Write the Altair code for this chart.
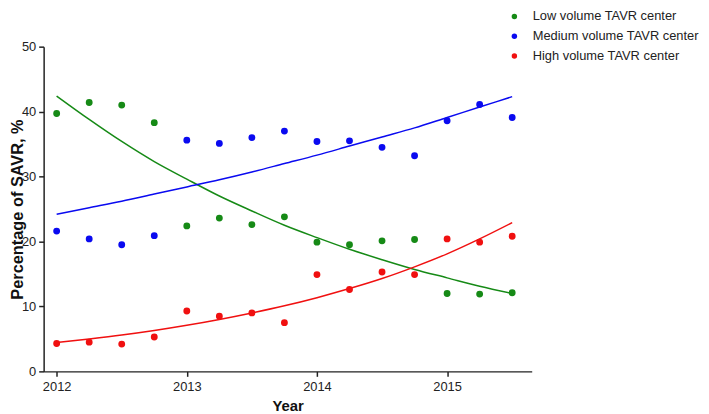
import altair as alt
import pandas as pd

years = [2012.0, 2012.25, 2012.5, 2012.75, 2013.0, 2013.25, 2013.5, 2013.75,
         2014.0, 2014.25, 2014.5, 2014.75, 2015.0, 2015.25, 2015.5]
low_pts = [39.7, 41.4, 41.0, 38.3, 22.4, 23.6, 22.6, 23.8, 19.9, 19.5, 20.1, 20.3, 12.0, 11.9, 12.1]
med_pts = [21.6, 20.4, 19.5, 20.9, 35.6, 35.1, 36.0, 37.0, 35.4, 35.5, 34.5, 33.2, 38.6, 41.1, 39.1]
high_pts = [4.3, 4.5, 4.2, 5.3, 9.3, 8.5, 9.0, 7.5, 14.9, 12.6, 15.3, 14.9, 20.4, 19.9, 20.8]
low_fit = [42.4, 38.8, 35.4, 32.3, 29.6, 27.0, 24.7, 22.5, 20.6, 18.8, 17.2, 15.7, 14.4, 13.1, 12.0]
med_fit = [24.2, 25.2, 26.2, 27.3, 28.4, 29.5, 30.7, 32.0, 33.3, 34.7, 36.1, 37.5, 39.1, 40.7, 42.3]
high_fit = [4.45, 5.0, 5.6, 6.3, 7.1, 8.0, 9.0, 10.1, 11.35, 12.75, 14.3, 16.1, 18.1, 20.4, 22.9]

series = ["Low volume TAVR center", "Medium volume TAVR center", "High volume TAVR center"]
fit_names = ["Low fit", "Medium fit", "High fit"]
colors = ["#168a16", "#0a0af0", "#f01010"]

rows = []
for name, fname, pts, fit in zip(series, fit_names, [low_pts, med_pts, high_pts],
                                 [low_fit, med_fit, high_fit]):
    for yr, p, f in zip(years, pts, fit):
        rows.append({"year": yr, "series": name, "curve": fname, "value": p, "fit": f})
df = pd.DataFrame(rows)

xscale = alt.Scale(domain=[2011.9, 2015.65], nice=False, zero=False)
yscale = alt.Scale(domain=[0, 50], nice=False)

x_enc = alt.X("year:Q", scale=xscale,
              axis=alt.Axis(title="Year", values=[2012, 2013, 2014, 2015], format="d",
                            grid=False, tickSize=5, labelPadding=4, titlePadding=6,
                            titleFontSize=15))
y_enc = alt.Y("value:Q", scale=yscale,
              axis=alt.Axis(title="Percentage of SAVR, %", values=list(range(0, 51, 5)),
                            labelExpr="datum.value % 10 == 0 ? datum.label : ''",
                            grid=False, tickSize=5, labelPadding=3, titleFontSize=16.5,
                            titleAngle=270, titleBaseline="top", titleAlign="center",
                            titleX=-34, titleY=164))

lines = alt.Chart(df).mark_line(strokeWidth=1.5, interpolate="monotone").encode(
    x=alt.X("year:Q", scale=xscale),
    y=alt.Y("fit:Q", scale=yscale),
    stroke=alt.Stroke("curve:N", scale=alt.Scale(domain=fit_names, range=colors), legend=None),
    detail="curve:N",
)

points = alt.Chart(df).mark_circle(size=48, opacity=1).encode(
    x=x_enc,
    y=y_enc,
    color=alt.Color("series:N", scale=alt.Scale(domain=series, range=colors),
                    legend=alt.Legend(title=None, orient="none", legendX=469, legendY=-37,
                                      symbolType="circle", symbolSize=30, symbolOpacity=1,
                                      labelFontSize=13, labelOffset=12, rowPadding=6,
                                      padding=0, labelLimit=300)),
)

chart = alt.layer(lines, points).properties(
    width=493, height=328,
    autosize=alt.AutoSizeParams(type="none"),
    padding={"left": 36, "top": 37, "right": 171, "bottom": 41},
).configure(
    font="Liberation Sans"
).configure_view(strokeWidth=0).configure_axis(
    domainColor="#222", domainWidth=1.5, tickColor="#222", tickWidth=1.5,
    labelFont="Liberation Sans", labelFontSize=13, labelColor="#222",
    titleFont="Liberation Sans", titleFontWeight="bold", titleColor="#111",
).configure_legend(labelFont="Liberation Sans", labelColor="#222")

chart.save("out.html", embed_options={"renderer": "svg", "actions": False})
